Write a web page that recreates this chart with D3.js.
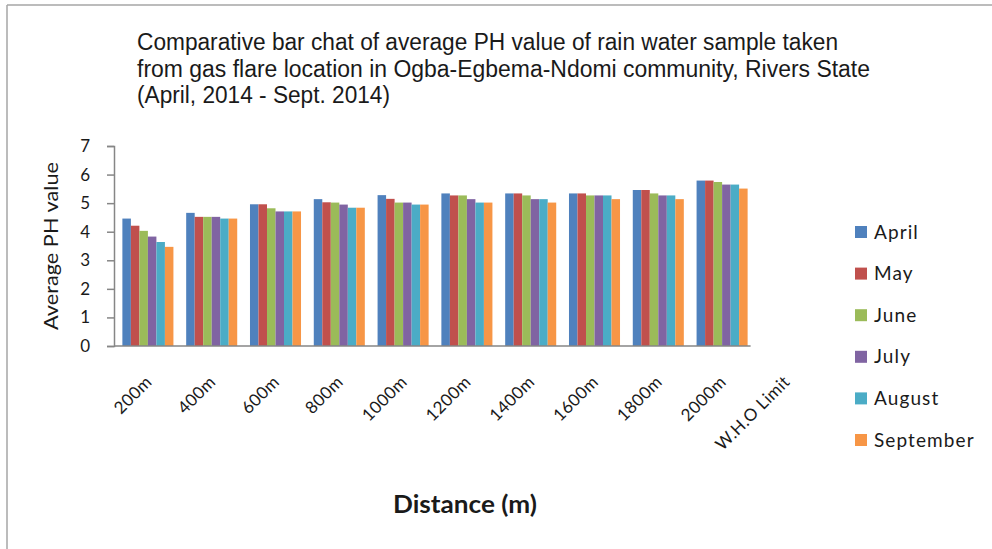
<!DOCTYPE html>
<html>
<head>
<meta charset="utf-8">
<script src="https://cdn.jsdelivr.net/npm/d3@7/dist/d3.min.js"></script>
<style>
  html, body { margin: 0; padding: 0; background: #fff; }
  svg { display: block; }
</style>
</head>
<body>
<svg id="chart" width="992" height="549"></svg>
<script>
// ---- data ----
const categories = ["200m","400m","600m","800m","1000m","1200m","1400m","1600m","1800m","2000m","W.H.O Limit"];
const seriesNames = ["April","May","June","July","August","September"];
const april     = [4.46, 4.66, 4.96, 5.14, 5.28, 5.34, 5.34, 5.34, 5.46, 5.79];
const may       = [4.21, 4.52, 4.96, 5.03, 5.15, 5.27, 5.34, 5.34, 5.46, 5.79];
const june      = [4.03, 4.52, 4.82, 5.02, 5.02, 5.27, 5.27, 5.27, 5.34, 5.74];
const july      = [3.83, 4.52, 4.71, 4.95, 5.02, 5.14, 5.14, 5.27, 5.27, 5.65];
const august    = [3.64, 4.46, 4.71, 4.84, 4.95, 5.02, 5.14, 5.27, 5.27, 5.65];
const september = [3.47, 4.46, 4.71, 4.84, 4.95, 5.02, 5.02, 5.14, 5.14, 5.51];
const seriesValues = [april, may, june, july, august, september];
const colors = ["#4F81BD","#C0504D","#9BBB59","#8064A2","#4BACC6","#F79646"];
const yTicks = [0,1,2,3,4,5,6,7];
const titleLines = [
  "Comparative bar chat of average PH value of rain water sample taken",
  "from gas flare location in Ogba-Egbema-Ndomi community, Rivers State",
  "(April, 2014 - Sept. 2014)"
];

const svg = d3.select("#chart");
const font = "Lato, 'Open Sans', sans-serif";

// frame
svg.append("line").attr("x1",7).attr("y1",5).attr("x2",992).attr("y2",5)
  .attr("stroke","#a6a6a6").attr("stroke-width",1.5);
svg.append("line").attr("x1",7).attr("y1",5).attr("x2",7).attr("y2",549)
  .attr("stroke","#a6a6a6").attr("stroke-width",1.5);

// title
const titleWidths = [701, 733, 253];
svg.append("g").selectAll("text").data(titleLines).join("text")
  .attr("x",137).attr("y",(d,i)=>50 + i*26.5)
  .attr("font-family","'Liberation Sans Narrow', 'Liberation Sans', Arial, sans-serif")
  .attr("font-size",23)
  .attr("fill","#1a1a1a")
  .attr("textLength",(d,i)=>titleWidths[i])
  .attr("lengthAdjust","spacingAndGlyphs")
  .text(d=>d);

// scales
const step = 63.8;
const x = d3.scaleBand().domain(categories)
  .range([116, 116 + categories.length*step])
  .paddingInner(0.2).paddingOuter(0.1);
const y = d3.scaleLinear().domain([0,7]).range([346,146]);
const dataCats = categories.slice(0, april.length);
const xs = d3.scaleBand().domain(seriesNames).range([0, x.bandwidth()]);

// bars
seriesNames.forEach((s, si) => {
  svg.append("g").selectAll("rect").data(seriesValues[si]).join("rect")
    .attr("x",(d,i)=>x(dataCats[i]) + xs(s))
    .attr("width",xs.bandwidth())
    .attr("y",d=>y(d))
    .attr("height",d=>y(0)-y(d))
    .attr("fill",colors[si]);
});

// y axis
const yAxis = d3.axisLeft(y).tickValues(yTicks).tickFormat(d3.format("d")).tickSize(7).tickPadding(17);
const gy = svg.append("g").attr("transform","translate(114,0)").call(yAxis);
gy.select(".domain").attr("stroke","#868686").attr("stroke-width",1.5);
gy.selectAll(".tick line").attr("stroke","#868686").attr("stroke-width",1.5);
gy.selectAll(".tick text").attr("font-family",font).attr("font-size",17).attr("fill","#1a1a1a");

// x axis line (only across data categories)
const xEnd = x(dataCats[dataCats.length-1]) + x.bandwidth() + 3;
svg.append("line").attr("x1",114).attr("x2",xEnd).attr("y1",y(0)).attr("y2",y(0))
  .attr("stroke","#868686").attr("stroke-width",1.5);

// x labels
svg.append("g").selectAll("text").data(categories).join("text")
  .attr("transform",d=>`translate(${x(d)+x.bandwidth()/2+5},${y(0)+37}) rotate(-45)`)
  .attr("text-anchor","end")
  .attr("font-family",font).attr("font-size",17).attr("fill","#1a1a1a")
  .attr("letter-spacing",0.4)
  .text(d=>d);

// axis titles
svg.append("text")
  .attr("transform","translate(58,246) rotate(-90)")
  .attr("text-anchor","middle")
  .attr("font-family",font).attr("font-size",19).attr("font-weight","normal")
  .attr("fill","#1a1a1a")
  .attr("textLength",168).attr("lengthAdjust","spacingAndGlyphs")
  .text("Average  PH value");
svg.append("text")
  .attr("x",465).attr("y",513).attr("text-anchor","middle")
  .attr("font-family",font).attr("font-size",24).attr("font-weight","bold")
  .attr("fill","#1a1a1a")
  .attr("textLength",144).attr("lengthAdjust","spacingAndGlyphs")
  .text("Distance (m)");

// legend
const lg = svg.append("g").selectAll("g").data(seriesNames).join("g")
  .attr("transform",(d,i)=>`translate(855,${232 + i*41.6})`);
lg.append("rect").attr("x",0).attr("y",-6).attr("width",12).attr("height",12)
  .attr("fill",(d,i)=>colors[i]);
lg.append("text").attr("x",19).attr("y",6.5)
  .attr("font-family",font).attr("font-size",19).attr("fill","#1a1a1a")
  .attr("letter-spacing",1.1)
  .text(d=>d);
</script>
</body>
</html>
